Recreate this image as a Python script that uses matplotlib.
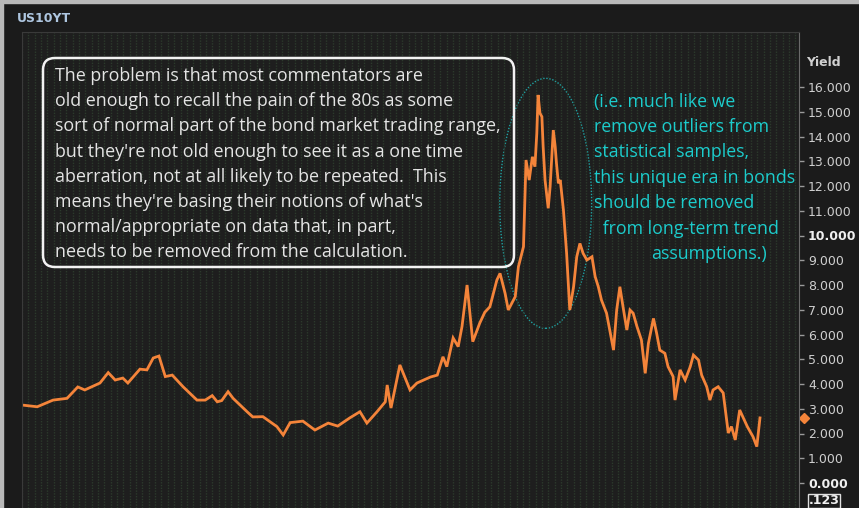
import numpy as np
import matplotlib
matplotlib.use("Agg")
import matplotlib.pyplot as plt
from matplotlib.patches import FancyBboxPatch, Ellipse, Rectangle
import matplotlib.transforms as mtransforms

# US 10y yield (year, percent)
years = [1900.0, 1902.4, 1904.9, 1907.1, 1908.8, 1909.9, 1912.3, 1913.6, 1914.7, 1915.9,
         1916.7, 1918.6, 1919.7, 1920.7, 1921.6, 1922.6, 1923.7, 1925.4, 1927.6, 1928.9,
         1930.0, 1930.8, 1931.5, 1932.5, 1933.3, 1935.5, 1936.4, 1938.0, 1940.2, 1941.2,
         1942.3, 1944.3, 1946.2, 1948.3, 1949.8, 1951.7, 1953.3, 1954.4, 1956.0, 1957.3,
         1957.6, 1958.2, 1959.6, 1961.2, 1962.3, 1964.4, 1965.5, 1966.4, 1967.0, 1968.0,
         1968.8, 1969.4, 1970.2, 1971.1, 1972.2, 1973.0, 1973.8, 1974.9, 1975.4, 1976.2,
         1976.7, 1977.8, 1978.3, 1979.1, 1979.5, 1980.0, 1980.5, 1980.9, 1981.2, 1981.4,
         1981.7, 1982.0, 1982.2, 1982.5, 1983.0, 1983.3, 1983.8, 1984.1, 1984.3, 1984.6,
         1984.9, 1985.4, 1985.9, 1986.4, 1987.0, 1987.5, 1988.0, 1988.5, 1989.1, 1989.9,
         1990.4, 1990.9, 1991.4, 1992.2, 1992.7, 1993.3, 1993.8, 1994.3, 1994.8, 1995.4,
         1995.9, 1996.4, 1997.0, 1997.7, 1998.3, 1998.8, 1999.6, 2000.1, 2000.6, 2001.4,
         2001.9, 2002.7, 2003.0, 2003.8, 2004.6, 2005.4, 2005.9, 2006.7, 2007.2, 2008.0,
         2008.5, 2009.0, 2009.8, 2010.6, 2011.4, 2011.9, 2012.5, 2013.2, 2014.4, 2015.3,
         2015.9, 2016.4]
yields = [3.15, 3.08, 3.35, 3.42, 3.88, 3.76, 4.04, 4.46, 4.16, 4.24,
          4.04, 4.60, 4.57, 5.05, 5.13, 4.30, 4.36, 3.89, 3.35, 3.35,
          3.53, 3.28, 3.33, 3.69, 3.42, 2.88, 2.67, 2.68, 2.28, 1.94,
          2.44, 2.50, 2.14, 2.42, 2.30, 2.63, 2.88, 2.42, 2.88, 3.28,
          3.96, 3.03, 4.77, 3.76, 4.04, 4.28, 4.36, 5.10, 4.70, 5.86,
          5.51, 6.32, 8.00, 5.71, 6.46, 6.90, 7.12, 8.20, 8.47, 7.66,
          6.99, 7.53, 8.74, 9.55, 13.05, 12.24, 13.18, 12.78, 14.13, 15.68,
          14.94, 14.80, 13.59, 12.24, 11.10, 11.97, 14.26, 13.59, 12.92, 12.11,
          12.24, 11.03, 9.28, 6.99, 7.93, 9.14, 9.68, 9.28, 9.01, 9.14,
          8.34, 7.93, 7.39, 6.86, 6.18, 5.37, 6.99, 7.93, 7.12, 6.18,
          6.99, 6.86, 6.32, 5.78, 4.43, 5.64, 6.65, 6.05, 5.37, 5.24,
          4.70, 4.30, 3.35, 4.57, 4.16, 4.70, 5.17, 4.97, 4.36, 3.89,
          3.35, 3.76, 3.89, 3.64, 2.02, 2.28, 1.74, 2.95, 2.28, 1.87,
          1.47, 2.63]
yield_ticks = list(range(0, 17))

box_lines = ["The problem is that most commentators are",
             "old enough to recall the pain of the 80s as some",
             "sort of normal part of the bond market trading range,",
             "but they're not old enough to see it as a one time",
             "aberration, not at all likely to be repeated.  This",
             "means they're basing their notions of what's",
             "normal/appropriate on data that, in part,",
             "needs to be removed from the calculation."]
note_lines = ["(i.e. much like we",
              "remove outliers from",
              "statistical samples,",
              "this unique era in bonds",
              "should be removed",
              " from long-term trend",
              "assumptions.)"]

W, H = 859, 508
orange = "#f4843a"
cyan = "#1ccccc"

fig = plt.figure(figsize=(W / 100, H / 100), dpi=100, facecolor="#1b1b1b")
px = mtransforms.IdentityTransform()

# light frame on top / left
fig.patches.append(Rectangle((0, H - 3), W, 3, transform=px, color="#b9b9b9"))
fig.patches.append(Rectangle((0, 0), 3, H, transform=px, color="#b9b9b9"))

ax = fig.add_axes([22 / W, 0, (799 - 22) / W, (H - 32) / H])
ax.set_facecolor("#1e1e1e")
ax.set_xlim(1900, 1900 + 777 / 6.34)
ax.set_ylim(-25 / 24.75, 451 / 24.75)

ax.set_xticks(np.arange(1900, 2023, 1))
ax.grid(axis="x", color="#2c3a2c", lw=1.0, ls=(0, (1, 1)))
ax.tick_params(axis="x", length=0, labelbottom=False)

ax.yaxis.tick_right()
ax.set_yticks(yield_ticks)
ax.set_yticklabels(["%.3f" % v for v in yield_ticks])
ax.tick_params(axis="y", colors="#9a9a9a", labelcolor="#cfcfcf", length=3.5,
               width=1, pad=3, labelsize=9)
for lab in ax.get_yticklabels():
    lab.set_horizontalalignment("left")
    if lab.get_text() in ("10.000", "0.000"):
        lab.set_fontweight("bold")
        lab.set_color("#f0f0f0")

for s in ["left", "top", "bottom"]:
    ax.spines[s].set_color("#3a3a3a")
ax.spines["right"].set_color("#6a6a6a")

ax.plot(years, yields, color=orange, lw=2.0, solid_joinstyle="miter")
ax.plot([1.007], [yields[-1]], marker="D", ms=5, color=orange, clip_on=False,
        transform=mtransforms.blended_transform_factory(ax.transAxes, ax.transData))

# dotted ellipse around the 80s
ax.add_patch(Ellipse((1982.6, 11.3), 14.5, 10.1, fill=False, edgecolor="#1fa3a3",
                     lw=1.0, ls=(0, (1, 1.2))))

# text box
fig.patches.append(FancyBboxPatch((43, H - 267), 471, 209, transform=px,
                                  boxstyle="round,pad=0,rounding_size=12",
                                  fill=False, edgecolor="#f2f2f2", lw=1.8))
for i, line in enumerate(box_lines):
    fig.text(55 / W, 1 - (81 + 25.2 * i) / H, line, color="#e4e4e4",
             fontsize=12.9, family="Open Sans", va="baseline", ha="left")

note_x = [594, 594, 594, 594, 594, 598, 651]
for i, line in enumerate(note_lines):
    fig.text(note_x[i] / W, 1 - (106.5 + 25.4 * i) / H, line, color=cyan,
             fontsize=12.8, family="Open Sans", va="baseline", ha="left")

fig.text(17 / W, 1 - 19 / H, "US10YT", color="#aec6e0", fontsize=9,
         fontweight="bold", va="center", ha="left")
fig.text(806 / W, 1 - 63 / H, "Yield", color="#d0d0d0", fontsize=9,
         fontweight="bold", va="center", ha="left")

fig.patches.append(Rectangle((808, 0), 32, 14, transform=px, fill=False,
                             edgecolor="#e0e0e0", lw=1))
fig.text(824 / W, 7 / H, ".123", color="#f0f0f0", fontsize=9, fontweight="bold",
         va="center", ha="center")

fig.savefig("out.png", dpi=100, facecolor=fig.get_facecolor())
